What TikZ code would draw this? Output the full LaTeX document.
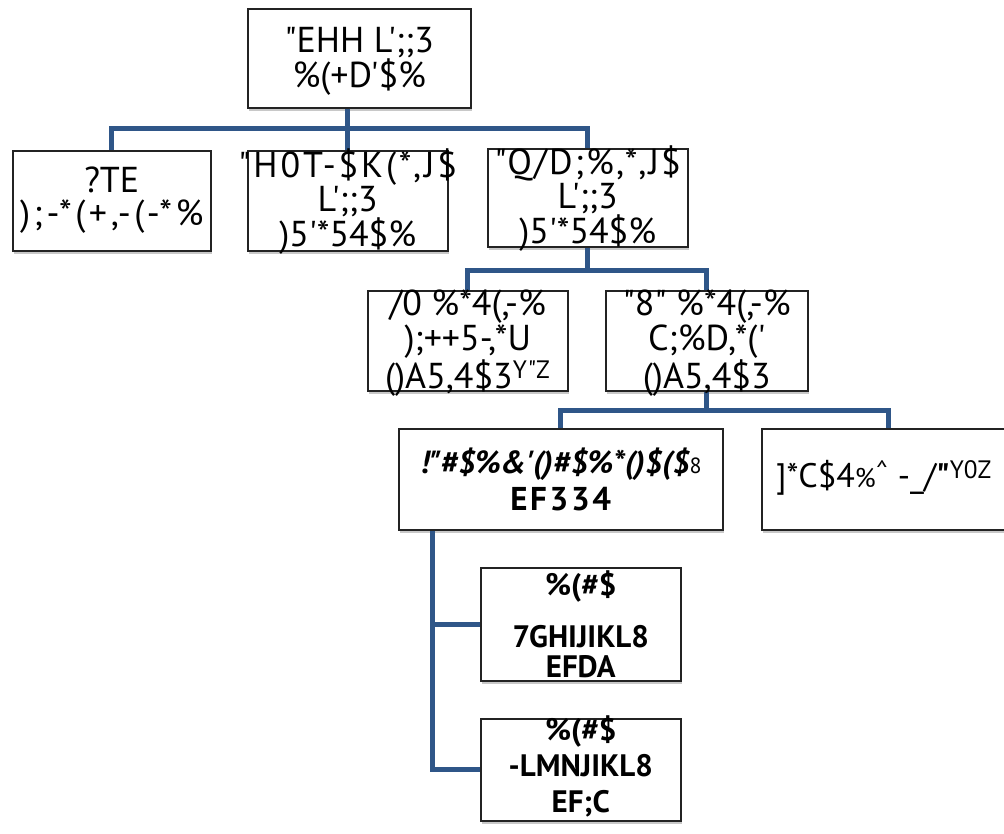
\documentclass[tikz,border=0pt]{standalone}
\usepackage{fontspec}
\usetikzlibrary{shadows,calc}
\newfontfamily\df{PT Sans}
\newfontfamily\dfb{PT Sans}
\definecolor{connc}{RGB}{47,86,136}
\definecolor{boxline}{RGB}{35,35,35}
\begin{document}
\begin{tikzpicture}[x=1pt,y=-1pt,
 box/.style={draw=boxline, line width=1.5pt, fill=white,
   drop shadow={shadow xshift=1pt,shadow yshift=-3pt,opacity=0.3,fill=black!70},
   inner sep=0pt, anchor=north west},
 lbl/.style={align=center, inner sep=0pt, font=\df\fontsize{36}{#1}\selectfont},
 lbl/.default=34,
 bl/.style={align=center, inner sep=0pt, font=\dfb\bfseries\fontsize{31}{#1}\selectfont},
 bl/.default=30,
 conn/.style={draw=connc, line width=5pt}]
\useasboundingbox[fill=white] (0,0) rectangle (1004,833);
% boxes
\node[box, minimum width=223pt, minimum height=99pt]  (b1)  at (247,8)   {};
\node[box, minimum width=198pt, minimum height=100pt] (b2)  at (12,150)  {};
\node[box, minimum width=200pt, minimum height=100pt] (b3)  at (247,150) {};
\node[box, minimum width=200pt, minimum height=98pt]  (b4)  at (487,148) {};
\node[box, minimum width=200pt, minimum height=100pt] (b5)  at (367,290) {};
\node[box, minimum width=202pt, minimum height=100pt] (b6)  at (605,290) {};
\node[box, minimum width=324pt, minimum height=101pt] (b7)  at (398,428) {};
\node[box, minimum width=260pt, minimum height=101pt] (b8)  at (761,428) {};
\node[box, minimum width=200pt, minimum height=113pt] (b9)  at (480,567) {};
\node[box, minimum width=200pt, minimum height=102pt] (b10) at (480,718) {};
% connectors
\coordinate (bus1) at (0,128);
\coordinate (bus2) at (0,270);
\coordinate (bus3) at (0,410);
\draw[conn] (b1.south -| b3.north) -- (b3.north);
\draw[conn] (b2.north) -- (b2.north |- bus1) -- (b4.north |- bus1) -- (b4.north);
\draw[conn] (b4.south) -- (b4.south |- bus2);
\draw[conn] (b5.north) -- (b5.north |- bus2) -- (b6.north |- bus2) -- (b6.north);
\draw[conn] (b6.south) -- (b6.south |- bus3);
\coordinate (r3) at ($(b8.north west)+(127,0)$);
\draw[conn] (b7.north) -- (b7.north |- bus3) -- (r3 |- bus3) -- (r3);
\coordinate (v) at ($(b7.south west)+(34,0)$);
\draw[conn] (v) |- (b10.west);
\draw[conn] (b9.west) -- (b9.west -| v);
% texts
\node[lbl] (t1) at ($(b1.center)+(0,3)$) {"EHH L';;3\\\%(+D'\$\%};
\node[lbl=33] (t2) at ($(b2.center)+(0,-1)$) {?TE\\{\addfontfeatures{LetterSpace=10});-*(+,-(-*\%}};
\node[lbl] (t3) at ($(b3.center)+(0,1)$) {{\addfontfeatures{LetterSpace=8}"H0T-\$K(*,J\$}\\L';;3\\)5'*54\$\%};
\node[lbl] (t4) at ($(b4.center)+(0,1)$) {{\addfontfeatures{LetterSpace=6}"Q/D;\%,*,J\$}\\L';;3\\)5'*54\$\%};
\node[lbl=35] (t5) at ($(b5.center)+(0,2)$) {/0 \%*4(,-\%\\);++5-,*U\\()A5,4\$3\textsuperscript{Y"Z}};
\node[lbl=35] (t6) at ($(b6.center)+(0,2)$) {"8" \%*4(,-\%\\C;\%D,*('\\()A5,4\$3};
\node[lbl=37] (t7) at (b7.center) {{\dfb\bfseries\itshape\fontsize{32}{37}\selectfont !"\#\$\%\&'()\#\$\%*()\$(\$}{\dfb\fontsize{22}{37}\selectfont 8}\\{\bfseries\addfontfeatures{LetterSpace=8}\fontsize{33}{37}\selectfont EF334}};
\node[lbl] (t8) at ($(b8.north west)+(123,50)$) {{\fontsize{34}{34}\selectfont ]*C\$4}{\fontsize{27}{34}\selectfont\%}\textsuperscript{\textasciicircum}{\fontsize{34}{34}\selectfont{} -\_/{\bfseries"}}\textsuperscript{Y0Z}};
\node[bl] (t9) at (b9.center) {\%(\#\$\\[22pt]7GHIJIKL8\\EFDA};
\node[bl=36] (t10) at ($(b10.center)+(0,-3)$) {\%(\#\$\\-LMNJIKL8\\EF;C};
\end{tikzpicture}
\end{document}
